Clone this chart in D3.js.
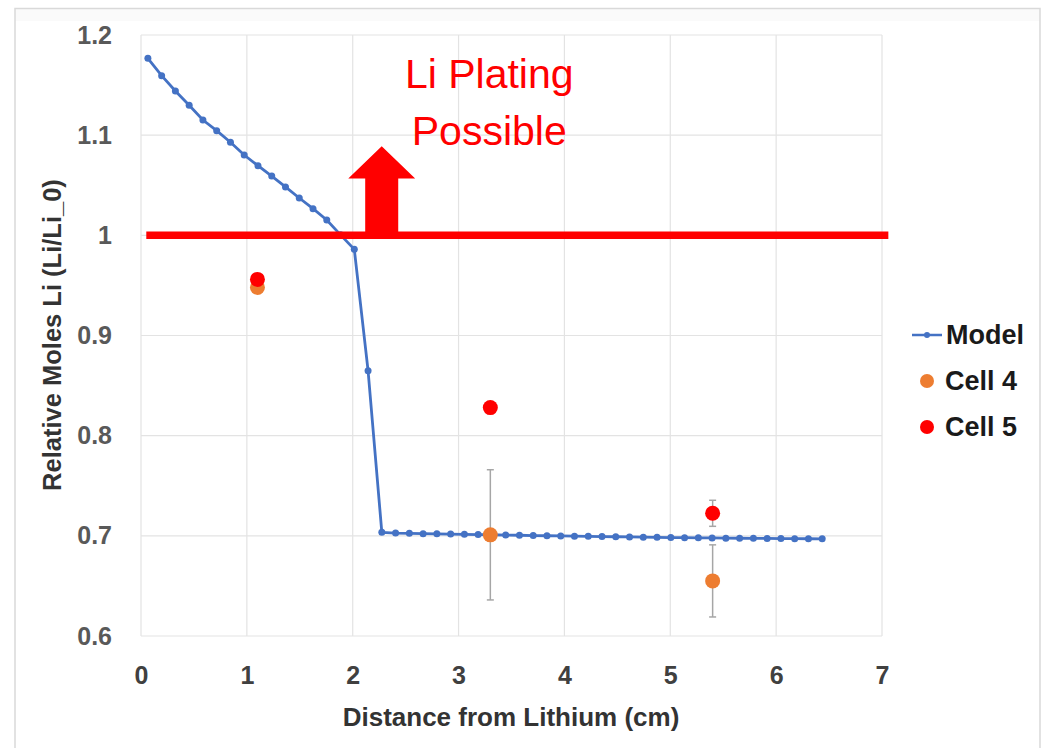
<!DOCTYPE html>
<html>
<head>
<meta charset="utf-8">
<script src="https://cdn.jsdelivr.net/npm/d3@7"></script>
<style>
  html, body { margin: 0; padding: 0; background: #ffffff; }
  svg { display: block; }
  text { font-family: "Liberation Sans", Arial, sans-serif; }
</style>
</head>
<body>
<svg id="chart" width="1045" height="748"></svg>
<script>
// Model: relative moles of Li per cell along the electrode (cm)
const modelX = [0.065, 0.195, 0.325, 0.455, 0.585, 0.715, 0.845, 0.975, 1.105, 1.235,
  1.365, 1.495, 1.625, 1.755, 1.885, 2.015, 2.145, 2.275, 2.405, 2.535,
  2.665, 2.795, 2.925, 3.055, 3.185, 3.315, 3.445, 3.575, 3.705, 3.835,
  3.965, 4.095, 4.225, 4.355, 4.485, 4.615, 4.745, 4.875, 5.005, 5.135,
  5.265, 5.395, 5.525, 5.655, 5.785, 5.915, 6.045, 6.175, 6.305, 6.435];
const modelY = [1.1767, 1.1594, 1.1441, 1.1298, 1.1151, 1.1045, 1.0929, 1.0802, 1.0695, 1.0592,
  1.0483, 1.0373, 1.0266, 1.0153, 1.0005, 0.9860, 0.8649, 0.7035, 0.7028, 0.7025,
  0.7022, 0.7020, 0.7018, 0.7015, 0.7013, 0.7011, 0.7008, 0.7006, 0.7003, 0.7001,
  0.6999, 0.6997, 0.6995, 0.6993, 0.6991, 0.6989, 0.6987, 0.6985, 0.6983, 0.6982,
  0.6980, 0.6979, 0.6977, 0.6976, 0.6975, 0.6974, 0.6973, 0.6972, 0.6971, 0.6970];

// Measured cells with error bars
const cellX = [1.1, 3.3, 5.4];
const cell4Y = [0.948, 0.701, 0.655];
const cell4Err = [0, 0.065, 0.036];
const cell5Y = [0.956, 0.828, 0.7225];
const cell5Err = [0, 0, 0.013];

// Plating threshold line and arrow
const thresholdY = 1.0;
const thresholdX = [0.05, 7.06];
const arrowX = 2.274;
const arrowHeadBase = 1.0567;
const arrowTip = 1.089;
const arrowShaftHalf = 0.156;
const arrowHeadHalf = 0.316;
const noteLines = ["Li Plating", "Possible"];
const noteX = 3.29;
const noteY = [1.147, 1.090];

// Axes
const xTicks = [0, 1, 2, 3, 4, 5, 6, 7];
const yTicks = [0.6, 0.7, 0.8, 0.9, 1.0, 1.1, 1.2];
const xTitle = "Distance from Lithium (cm)";
const yTitle = "Relative Moles Li (Li/Li_0)";

// Legend
const legendNames = ["Model", "Cell 4", "Cell 5"];
const colors = { model: "#4472C4", cell4: "#ED7D31", cell5: "#FF0000" };

const svg = d3.select("#chart");
const W = 1045, H = 748;
const plot = { left: 141, top: 35, right: 882, bottom: 636 };

const x = d3.scaleLinear().domain([0, 7]).range([plot.left, plot.right]);
const y = d3.scaleLinear().domain([0.6, 1.2]).range([plot.bottom, plot.top]);

// outer frame
svg.append("rect").attr("x", 15).attr("y", 9).attr("width", 1025).attr("height", 12)
  .attr("fill", "#fafafa");
svg.append("path")
  .attr("d", `M15,${H} L15,8.5 L1040,8.5 L1040,${H}`)
  .attr("fill", "none").attr("stroke", "#d9d9d9").attr("stroke-width", 1.5);

// gridlines
const grid = svg.append("g");
grid.selectAll("line.v").data(xTicks).join("line")
  .attr("x1", d => x(d)).attr("x2", d => x(d))
  .attr("y1", plot.top).attr("y2", plot.bottom)
  .attr("stroke", "#e3e3e3").attr("stroke-width", 1.2);
grid.selectAll("line.h").data(yTicks).join("line")
  .attr("x1", plot.left).attr("x2", plot.right)
  .attr("y1", d => y(d)).attr("y2", d => y(d))
  .attr("stroke", "#e3e3e3").attr("stroke-width", 1.2);

// axes (labels only)
const xAxis = d3.axisBottom(x).tickValues(xTicks).tickSize(0).tickPadding(30)
  .tickFormat(d3.format("d"));
const gx = svg.append("g").attr("transform", `translate(0,${plot.bottom})`).call(xAxis);
gx.select(".domain").remove();
gx.selectAll("text").attr("font-size", 25).attr("font-weight", "bold")
  .attr("fill", "#404040").attr("font-family", "Liberation Sans, Arial, sans-serif");

const yAxis = d3.axisLeft(y).tickValues(yTicks).tickSize(0).tickPadding(29)
  .tickFormat(d => d === 1 ? "1" : d3.format(".1f")(d));
const gy = svg.append("g").attr("transform", `translate(${plot.left},0)`).call(yAxis);
gy.select(".domain").remove();
gy.selectAll("text").attr("font-size", 25).attr("font-weight", "bold")
  .attr("fill", "#595959").attr("font-family", "Liberation Sans, Arial, sans-serif");

// axis titles
svg.append("text").attr("x", 511).attr("y", 726).attr("text-anchor", "middle")
  .attr("font-size", 26).attr("font-weight", "bold").attr("fill", "#333333")
  .text(xTitle);
svg.append("text").attr("transform", "translate(61,335) rotate(-90)")
  .attr("text-anchor", "middle")
  .attr("font-size", 25.5).attr("font-weight", "bold").attr("fill", "#333333")
  .text(yTitle);

// model curve
const modelData = modelX.map((d, i) => ({ x: d, y: modelY[i] }));
svg.append("path").datum(modelData)
  .attr("d", d3.line().x(d => x(d.x)).y(d => y(d.y)))
  .attr("fill", "none").attr("stroke", colors.model).attr("stroke-width", 2.8);
svg.append("g").selectAll("circle").data(modelData).join("circle")
  .attr("cx", d => x(d.x)).attr("cy", d => y(d.y)).attr("r", 3.5)
  .attr("fill", colors.model);

// error bars and cell markers
function drawCell(vals, errs, color) {
  const data = cellX.map((d, i) => ({ x: d, y: vals[i], e: errs[i] }));
  const eb = svg.append("g").attr("stroke", "#a6a6a6").attr("stroke-width", 1.5);
  data.filter(d => d.e > 0).forEach(d => {
    eb.append("line").attr("x1", x(d.x)).attr("x2", x(d.x))
      .attr("y1", y(d.y - d.e)).attr("y2", y(d.y + d.e));
    [d.y - d.e, d.y + d.e].forEach(v => {
      eb.append("line").attr("x1", x(d.x) - 3.5).attr("x2", x(d.x) + 3.5)
        .attr("y1", y(v)).attr("y2", y(v));
    });
  });
  svg.append("g").selectAll("circle").data(data).join("circle")
    .attr("cx", d => x(d.x)).attr("cy", d => y(d.y)).attr("r", 7.5)
    .attr("fill", color);
}
drawCell(cell4Y, cell4Err, colors.cell4);
drawCell(cell5Y, cell5Err, colors.cell5);

// plating threshold
svg.append("line")
  .attr("x1", x(thresholdX[0])).attr("x2", x(thresholdX[1]))
  .attr("y1", y(thresholdY)).attr("y2", y(thresholdY))
  .attr("stroke", "#FF0000").attr("stroke-width", 7.5);

// arrow
const ax = arrowX;
const arrowPts = [
  [ax - arrowShaftHalf, thresholdY], [ax - arrowShaftHalf, arrowHeadBase],
  [ax - arrowHeadHalf, arrowHeadBase], [ax, arrowTip],
  [ax + arrowHeadHalf, arrowHeadBase], [ax + arrowShaftHalf, arrowHeadBase],
  [ax + arrowShaftHalf, thresholdY]
];
svg.append("path")
  .attr("d", d3.line().x(d => x(d[0])).y(d => y(d[1]))(arrowPts) + "Z")
  .attr("fill", "#FF0000");

// note text
svg.append("g").selectAll("text").data(noteLines).join("text")
  .attr("x", x(noteX)).attr("y", (d, i) => y(noteY[i]))
  .attr("text-anchor", "middle").attr("font-size", 41).attr("fill", "#FF0000")
  .text(d => d);

// legend
const legend = svg.append("g").attr("transform", "translate(912,335)");
const rows = legend.selectAll("g").data(legendNames).join("g")
  .attr("transform", (d, i) => `translate(0,${i * 46})`);
rows.filter((d, i) => i === 0).each(function () {
  const g = d3.select(this);
  g.append("line").attr("x1", 0).attr("x2", 30).attr("y1", 0).attr("y2", 0)
    .attr("stroke", colors.model).attr("stroke-width", 2.5);
  g.append("circle").attr("cx", 15).attr("cy", 0).attr("r", 3).attr("fill", colors.model);
});
rows.filter((d, i) => i > 0).append("circle")
  .attr("cx", 15).attr("cy", 0).attr("r", 7)
  .attr("fill", (d, i) => i === 0 ? colors.cell4 : colors.cell5);
rows.append("text").attr("x", (d, i) => i === 0 ? 34 : 33).attr("y", 0).attr("dy", "0.35em")
  .attr("font-size", 27).attr("font-weight", "bold").attr("fill", "#1a1a1a")
  .text(d => d);
</script>
</body>
</html>
